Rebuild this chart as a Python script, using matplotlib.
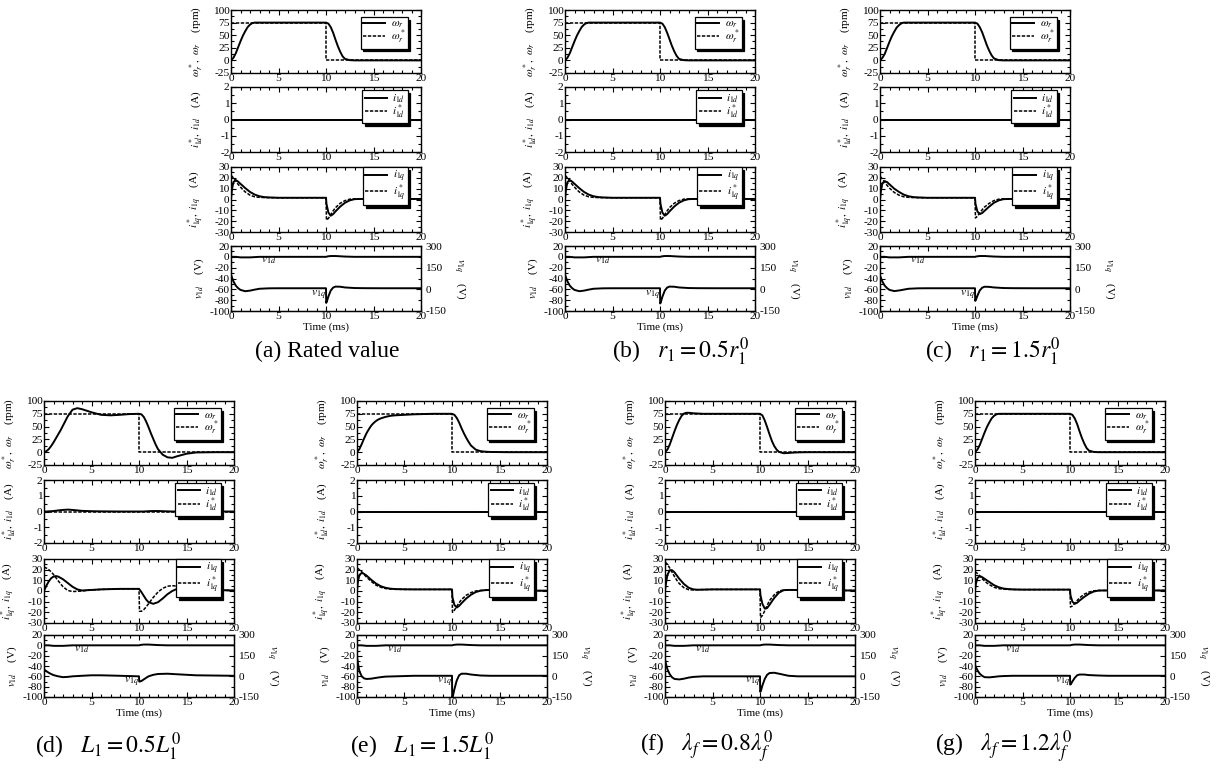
import matplotlib
matplotlib.use("Agg")
import matplotlib.pyplot as plt
from matplotlib.ticker import MultipleLocator

plt.rcParams['font.family'] = ['Liberation Serif', 'DejaVu Serif']
plt.rcParams['mathtext.fontset'] = 'stix'
plt.rcParams['axes.unicode_minus'] = False

# time grids (ms)
t_w = [0, 0.25, 0.5, 0.75, 1, 1.25, 1.5, 1.75, 2, 2.25, 2.5, 3, 3.5, 4, 5, 6, 7, 8, 9, 10,
       10.25, 10.5, 10.75, 11, 11.25, 11.5, 11.75, 12, 12.5, 13, 13.5, 14, 15, 16, 18, 20]
t_q = [0, 0.1, 0.25, 0.5, 0.75, 1, 1.25, 1.5, 2, 2.5, 3, 3.5, 4, 5, 6, 8, 10,
       10.05, 10.25, 10.5, 10.75, 11, 11.5, 12, 12.5, 13, 13.5, 14, 15, 16, 18, 20]
t_v = [0, 0.1, 0.25, 0.5, 0.75, 1, 1.5, 2, 2.5, 3, 4, 5, 6, 8, 10,
       10.02, 10.1, 10.25, 10.5, 10.75, 11, 11.5, 12, 13, 14, 16, 20]

# speed reference (rpm)
t_ref = [0, 10, 10, 20]
w_ref = [75, 75, 0, 0]

# speed omega_r (rpm)
w_a = [0, 5, 14, 26, 38, 49, 58, 66, 71, 74, 75, 75, 75, 75, 75, 75, 75, 75, 75, 75,
       73, 66, 55, 41, 28, 17, 8, 3, 0.5, 0, 0, 0, 0, 0, 0, 0]
w_b = [0, 5, 14, 26, 38, 49, 58, 66, 71, 74, 75, 75, 75, 75, 75, 75, 75, 75, 75, 75,
       73, 66, 55, 42, 29, 18, 9, 3, 0.5, 0, 0, 0, 0, 0, 0, 0]
w_c = [0, 5, 13, 25, 37, 48, 57, 65, 70, 73.5, 75, 75, 75, 75, 75, 75, 75, 75, 75, 75,
       73, 66, 56, 43, 30, 19, 10, 4, 0.5, 0, 0, 0, 0, 0, 0, 0]
w_d = [0, 2, 6, 12, 19, 27, 35, 43, 52, 61, 70, 83, 86, 84, 78, 73, 72, 73, 74.5, 75,
       74, 69, 60, 49, 37, 26, 15, 6, -5, -10, -11, -8, -3, -0.5, 0, 0]
w_e = [0, 6, 16, 27, 37, 45, 52, 57, 61, 64, 66, 69, 71, 72, 73, 74, 74.5, 75, 75, 75,
       73, 67, 58, 47, 37, 28, 20, 13, 5, 2, 1, 0.5, 0.2, 0, 0, 0]
w_f = [0, 5, 15, 28, 41, 53, 63, 71, 75.5, 77, 77, 76, 75.5, 75, 75, 75, 75, 75, 75, 75,
       72, 62, 49, 35, 22, 12, 5, 0.5, -2, -1.5, -0.8, -0.3, 0, 0, 0, 0]
w_g = [0, 5, 14, 26, 38, 49, 58, 66, 71, 74, 75, 75, 75, 75, 75, 75, 75, 75, 75, 75,
       73, 66, 55, 41, 28, 17, 8, 3, 0.5, 0, 0, 0, 0, 0, 0, 0]

# d-axis current (A)
id_zero = [0] * 32
id_d = [0, 0, 0, 0.01, 0.02, 0.03, 0.05, 0.07, 0.1, 0.12, 0.1, 0.07, 0.04, 0.02, 0.01, 0, 0,
        0, 0, 0, 0.01, 0.02, 0.03, 0.03, 0.02, 0.01, 0, 0, 0, 0, 0, 0]

# q-axis current command i1q* (A)
iqr_a = [22, 21.5, 20, 17, 14, 11.5, 9, 7, 4, 2.5, 2, 1.8, 1.7, 1.6, 1.6, 1.6, 1.6,
         -19, -17.5, -14, -10.5, -7.5, -3.5, -1, 0.3, 0.6, 0.6, 0.5, 0.5, 0.5, 0.5, 0.5]
iqr_b = [22, 21.5, 20, 17, 14, 11.5, 9, 7, 4, 2.5, 2, 1.8, 1.7, 1.6, 1.6, 1.6, 1.6,
         -19, -17.5, -14, -10.5, -7.5, -3.5, -1, 0.3, 0.6, 0.6, 0.5, 0.5, 0.5, 0.5, 0.5]
iqr_c = [21, 20.5, 19, 16, 13, 10.5, 8.5, 6.5, 4, 2.5, 2, 1.8, 1.7, 1.6, 1.6, 1.6, 1.6,
         -17, -15.5, -12.5, -9.5, -7, -3.5, -1, 0.3, 0.6, 0.6, 0.5, 0.5, 0.5, 0.5, 0.5]
iqr_d = [22, 22, 21.5, 20, 18, 15.5, 12.5, 9.5, 4, 0.5, -0.5, -0.3, 0, 1, 1.5, 2, 2,
         -19, -19, -17.5, -15, -12, -6, -1, 2.5, 4.5, 5, 4.5, 3, 1.5, 0.5, 0.5]
iqr_e = [21, 21, 20, 18, 15.5, 13, 11, 9, 5.5, 3.5, 2.3, 1.8, 1.6, 1.5, 1.5, 1.5, 1.5,
         -20, -18, -14.5, -11, -8, -4, -1.5, 0, 0.5, 0.8, 1, 0.8, 0.5, 0.3, 0.3]
iqr_f = [27, 26.5, 25, 21.5, 17.5, 13.5, 10, 7, 3, 1.2, 1, 1.2, 1.3, 1.5, 1.5, 1.5, 1.5,
         -25, -23, -18.5, -13.5, -9, -3.5, 0, 1, 1, 1, 0.8, 0.5, 0.5, 0.5, 0.5]
iqr_g = [18, 17.5, 16.5, 14, 11.5, 9.5, 7.5, 6, 3.5, 2.2, 1.7, 1.5, 1.4, 1.3, 1.3, 1.3, 1.3,
         -15, -14, -11.5, -9, -6.5, -3, -1, 0.2, 0.5, 0.5, 0.5, 0.5, 0.5, 0.5, 0.5]

# q-axis current i1q (A)
iq_a = [0, 9, 16, 18, 16.5, 14.5, 12.5, 10.5, 7, 4.5, 3, 2.2, 1.9, 1.6, 1.6, 1.6, 1.6,
        -4, -12, -15, -13.5, -11, -6.5, -3, -0.8, 0.3, 0.5, 0.5, 0.5, 0.5, 0.5, 0.5]
iq_b = [0, 9, 16, 18, 16.5, 14.5, 12.5, 10.5, 7, 4.5, 3, 2.2, 1.9, 1.6, 1.6, 1.6, 1.6,
        -4, -12, -15, -13.5, -11, -6.5, -3, -0.8, 0.3, 0.5, 0.5, 0.5, 0.5, 0.5, 0.5]
iq_c = [0, 8, 15, 17, 16, 14, 12, 10, 7, 4.5, 3, 2.2, 1.9, 1.6, 1.6, 1.6, 1.6,
        -4, -11, -13.5, -12.5, -10.5, -6.5, -3, -0.8, 0.3, 0.5, 0.5, 0.5, 0.5, 0.5, 0.5]
iq_d = [0, 2, 5, 9, 12, 13.5, 14, 13.5, 11, 7.5, 4, 1.5, 0.5, 1, 1.5, 2, 2,
        1.5, -1, -4.5, -8, -10.5, -12, -10.5, -7, -3, 0, 2, 4, 3, 1, 0.5]
iq_e = [0, 9, 15, 17, 16, 14.5, 12.5, 10.5, 7, 4.5, 3, 2.2, 1.8, 1.6, 1.5, 1.5, 1.5,
        -6, -13, -15.5, -14, -11.5, -7, -3.5, -1, 0.3, 0.8, 1, 0.8, 0.5, 0.3, 0.3]
iq_f = [0, 7, 15, 19.5, 19.5, 17.5, 14.5, 11.5, 6.5, 3, 1.5, 1.2, 1.3, 1.5, 1.5, 1.5, 1.5,
        -4, -12, -16.5, -16, -13, -6.5, -1.5, 0.8, 1, 1, 0.8, 0.5, 0.5, 0.5, 0.5]
iq_g = [0, 7, 12, 14, 13, 11.5, 10, 8.5, 5.5, 3.5, 2.3, 1.8, 1.5, 1.3, 1.3, 1.3, 1.3,
        -4, -10, -12, -11, -9, -5.5, -2.5, -0.5, 0.4, 0.5, 0.5, 0.5, 0.5, 0.5, 0.5]

# d-axis voltage v1d (V, left axis)
vd_all = [0, 0, 0, 0, -0.5, -1, -1, -1, -0.5, 0, 0, 0, 0, 0, 0,
          0, 0.5, 1, 1.5, 1.5, 1.5, 1, 0.5, 0, 0, 0, 0]

# q-axis voltage v1q (V, right axis)
vq_a = [101, 82, 56, 26, 8, -4, -13, -9, -2, 4, 7, 7.5, 7.5, 7.5, 7.5,
        -94, -82, -50, -8, 12, 19, 18, 13, 9, 8, 7.5, 7.5]
vq_b = [101, 82, 56, 26, 8, -4, -13, -9, -2, 4, 7, 7.5, 7.5, 7.5, 7.5,
        -98, -86, -52, -9, 12, 19, 18, 13, 9, 8, 7.5, 7.5]
vq_c = [95, 78, 54, 25, 8, -4, -12, -8, -2, 4, 7, 7.5, 7.5, 7.5, 7.5,
        -80, -72, -45, -8, 11, 18, 17, 13, 9, 8, 7.5, 7.5]
vq_d = [49, 45, 37.5, 26, 17, 9, 0, -6, -4, 0, 4, 7.5, 7.5, 4, 0,
        -37.5, -37.5, -34, -22.5, -11, 0, 11, 17, 19, 15, 7.5, 4]
vq_e = [142, 94, 37.5, 0, -15, -19, -17, -11, -6, -2, 0, 2, 4, 4, 4,
        -150, -142, -94, -30, 7.5, 19, 19, 13, 6, 4, 4, 4]
vq_f = [120, 90, 52.5, 15, -7.5, -19, -22.5, -17, -9, -4, 0, 0, 0, 0, 0,
        -112, -105, -67, -19, 11, 24, 26, 19, 4, 0, 0, 0]
vq_g = [82, 67, 45, 19, 4, -6, -7.5, -4, 0, 2, 4, 4, 4, 4, 4,
        -60, -56, -37.5, -11, 7.5, 13, 13, 9, 6, 4, 4, 4]

captions = ['(a) Rated value',
            r'(b)   $r_1 = 0.5r_1^0$',
            r'(c)   $r_1 = 1.5r_1^0$',
            r'(d)   $L_1 = 0.5L_1^0$',
            r'(e)   $L_1 = 1.5L_1^0$',
            r'(f)   $\lambda_f = 0.8\lambda_f^0$',
            r'(g)   $\lambda_f = 1.2\lambda_f^0$']

W, H = 1221, 771
fig = plt.figure(figsize=(W / 100, H / 100), dpi=100)

rows_top = [(10, 73), (87, 152), (167, 232), (246, 311)]
rows_bot = [(401, 465), (480, 543), (559, 623), (635, 697)]
AXW = 190

TICK = 8.2
LAB = 8


def px_axes(x0, y0, y1):
    return fig.add_axes([x0 / W, 1 - y1 / H, AXW / W, (y1 - y0) / H])


def style(ax, ylim, major, right=True):
    ax.set_xlim(0, 20)
    ax.set_ylim(*ylim)
    ax.xaxis.set_major_locator(MultipleLocator(5))
    ax.xaxis.set_minor_locator(MultipleLocator(1))
    ax.yaxis.set_major_locator(MultipleLocator(major))
    ax.yaxis.set_minor_locator(MultipleLocator(major / 2))
    ax.tick_params(which='both', direction='in', top=True, right=right,
                   labelsize=TICK, pad=1.0, width=0.8)
    ax.tick_params(which='major', length=3.5)
    ax.tick_params(which='minor', length=2)
    for s in ax.spines.values():
        s.set_linewidth(1.0)
    ax.yaxis.set_label_coords(-0.13, 0.5)


def legend(ax, labels, anchor):
    leg = ax.legend(labels, loc='upper right', bbox_to_anchor=anchor, fontsize=8,
                    fancybox=False, framealpha=1, edgecolor='black',
                    shadow={'color': 'black', 'alpha': 1}, handlelength=2.0,
                    labelspacing=-0.2, borderpad=0.2, handletextpad=0.5,
                    borderaxespad=0)
    leg.get_frame().set_linewidth(0.9)


DASH = (0, (2.2, 1.0))


def panel(x0, rows, w, idv, iq, iqr, vq, cap, cap_xy):
    # speed
    ax1 = px_axes(x0, *rows[0])
    ax1.plot(t_w, w, color='black', lw=1.4)
    ax1.plot(t_ref, w_ref, color='black', lw=1.1, ls=DASH)
    style(ax1, (-25, 100), 25)
    ax1.set_ylabel(r'$\omega_r^*,\ \omega_r$    (rpm)', fontsize=LAB)
    legend(ax1, [r'$\omega_r$', r'$\omega_r^*$'], (0.93, 0.89))

    # d current
    ax2 = px_axes(x0, *rows[1])
    ax2.plot(t_q, idv, color='black', lw=1.4)
    ax2.plot(t_q, id_zero, color='black', lw=1.1, ls=DASH)
    style(ax2, (-2, 2), 1)
    ax2.set_ylabel(r'$i_{1d}^*,\ i_{1d}$    (A)', fontsize=LAB)
    legend(ax2, [r'$i_{1d}$', r'$i_{1d}^*$'], (0.93, 0.95))

    # q current
    ax3 = px_axes(x0, *rows[2])
    ax3.plot(t_q, iq, color='black', lw=1.4)
    ax3.plot(t_q, iqr, color='black', lw=1.1, ls=DASH)
    style(ax3, (-30, 30), 10)
    ax3.set_ylabel(r'$i_{1q}^*,\ i_{1q}$    (A)', fontsize=LAB)
    legend(ax3, [r'$i_{1q}$', r'$i_{1q}^*$'], (0.93, 1.0))

    # voltages
    ax4 = px_axes(x0, *rows[3])
    ax4.plot(t_v, vd_all, color='black', lw=1.4)
    style(ax4, (-100, 20), 20, right=False)
    ax4.set_ylabel(r'$v_{1d}$    (V)', fontsize=LAB)
    ax4.set_xlabel('Time (ms)', fontsize=LAB, labelpad=0.5)
    ax4.text(3.2, -11, r'$v_{1d}$', fontsize=8.5)
    ax4.text(8.4, -74, r'$v_{1q}$', fontsize=8.5)
    ax5 = ax4.twinx()
    ax5.plot(t_v, vq, color='black', lw=1.4)
    ax5.set_ylim(-150, 300)
    ax5.yaxis.set_major_locator(MultipleLocator(150))
    ax5.yaxis.set_minor_locator(MultipleLocator(75))
    ax5.tick_params(which='both', direction='in', labelsize=TICK, pad=3, width=0.8)
    ax5.tick_params(which='major', length=3.5)
    ax5.tick_params(which='minor', length=2)
    ax5.set_ylabel(r'$v_{1q}$    (V)', fontsize=LAB, rotation=270, labelpad=16)

    fig.text(cap_xy[0] / W, 1 - cap_xy[1] / H, cap, fontsize=17,
             ha='left', va='center')


panel(231, rows_top, w_a, id_zero, iq_a, iqr_a, vq_a, captions[0], (255, 351))
panel(565, rows_top, w_b, id_zero, iq_b, iqr_b, vq_b, captions[1], (612, 352))
panel(880, rows_top, w_c, id_zero, iq_c, iqr_c, vq_c, captions[2], (925, 352))
panel(44, rows_bot, w_d, id_d, iq_d, iqr_d, vq_d, captions[3], (35, 747))
panel(357, rows_bot, w_e, id_zero, iq_e, iqr_e, vq_e, captions[4], (350, 747))
panel(665, rows_bot, w_f, id_zero, iq_f, iqr_f, vq_f, captions[5], (640, 747))
panel(975, rows_bot, w_g, id_zero, iq_g, iqr_g, vq_g, captions[6], (935, 747))

fig.savefig('out.png', dpi=100)
